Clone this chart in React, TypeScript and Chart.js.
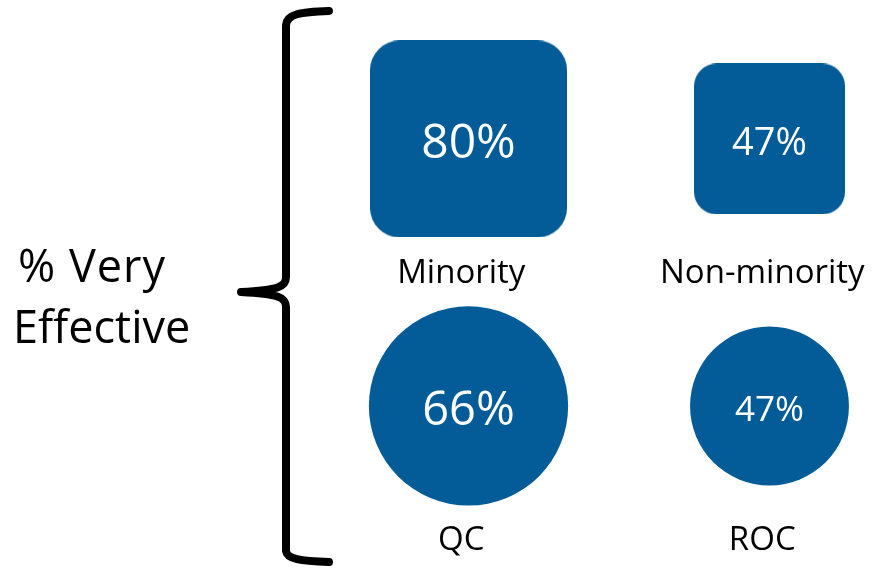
import { useEffect, useRef } from 'react';
import { Chart, registerables } from 'chart.js';

Chart.register(...registerables);

// ---- data ----
const squareLabels = ['Minority', 'Non-minority'];
const squareValues = [80, 47];
const circleLabels = ['QC', 'ROC'];
const circleValues = [66, 47];
const sideTitle = ['% Very', 'Effective'];

// ---- styles ----
const BLUE = '#035c98';
const FONT = '"Open Sans", "DejaVu Sans", sans-serif';

// size encodes value
const squareSide = (v: number) => 22 * Math.sqrt(v);
const circleRadius = (v: number) => 6.1 * Math.pow(v, 2 / 3);

const squareCache = new Map<number, HTMLCanvasElement>();
function squareImage(v: number): HTMLCanvasElement {
  const s = Math.round(squareSide(v));
  const hit = squareCache.get(s);
  if (hit) return hit;
  const c = document.createElement('canvas');
  c.width = s;
  c.height = s;
  const g = c.getContext('2d')!;
  g.fillStyle = BLUE;
  g.beginPath();
  (g as any).roundRect(0, 0, s, s, s * 0.15);
  g.fill();
  squareCache.set(s, c);
  return c;
}

const textPlugin = {
  id: 'shapeTexts',
  afterDatasetsDraw(chart: any) {
    const ctx: CanvasRenderingContext2D = chart.ctx;
    const xScale = chart.scales.x;
    const yScale = chart.scales.y;
    ctx.save();
    ctx.textAlign = 'center';
    ctx.textBaseline = 'alphabetic';
    chart.data.datasets.forEach((ds: any, di: number) => {
      const meta = chart.getDatasetMeta(di);
      meta.data.forEach((el: any, i: number) => {
        const raw = ds.data[i];
        const fs =
          di === 0
            ? Math.round(0.22 * squareSide(raw.v) + 5)
            : Math.round(0.3 * 2 * circleRadius(raw.v) - 12.7);
        ctx.fillStyle = '#ffffff';
        ctx.font = `${fs}px ${FONT}`;
        ctx.fillText(`${raw.v}%`, el.x, el.y + 0.36 * fs + 2);
        ctx.fillStyle = '#000000';
        ctx.font = `33px ${FONT}`;
        ctx.fillText(
          raw.label,
          xScale.getPixelForValue(raw.x - 0.024),
          yScale.getPixelForValue(raw.y - 0.54)
        );
      });
    });

    // side title
    ctx.textAlign = 'left';
    ctx.fillStyle = '#000000';
    ctx.font = `45px ${FONT}`;
    (ctx as any).letterSpacing = '1px';
    ctx.fillText(sideTitle[0], 18, 282);
    (ctx as any).letterSpacing = '0px';
    ctx.fillText(sideTitle[1], 13, 343);

    // curly brace
    ctx.strokeStyle = '#000000';
    ctx.lineWidth = 8;
    ctx.lineCap = 'round';
    ctx.lineJoin = 'round';
    ctx.beginPath();
    ctx.moveTo(329, 11);
    ctx.bezierCurveTo(300, 12, 287, 14, 286, 25);
    ctx.lineTo(286, 277);
    ctx.bezierCurveTo(286, 287, 278, 290, 241, 292);
    ctx.bezierCurveTo(278, 294, 286, 297, 286, 307);
    ctx.lineTo(286, 551);
    ctx.bezierCurveTo(287, 559, 300, 561, 329, 562);
    ctx.stroke();
    ctx.restore();
  },
};

export default function App() {
  const ref = useRef<HTMLCanvasElement | null>(null);

  useEffect(() => {
    if (!ref.current) return;
    const squares = squareValues.map((v, i) => ({ x: i, y: 1, v, label: squareLabels[i] }));
    const circles = circleValues.map((v, i) => ({ x: i, y: 0, v, label: circleLabels[i] }));

    const chart = new Chart(ref.current, {
      type: 'scatter',
      data: {
        datasets: [
          {
            label: 'Group',
            data: squares as any,
            pointStyle: (c: any) => squareImage(c.raw.v),
            pointRadius: (c: any) => squareSide(c.raw.v) / 2,
            backgroundColor: BLUE,
            borderWidth: 0,
            clip: false,
          } as any,
          {
            label: 'Organisation',
            data: circles as any,
            pointStyle: 'circle',
            pointRadius: (c: any) => circleRadius(c.raw.v),
            backgroundColor: BLUE,
            borderColor: BLUE,
            borderWidth: 0,
            clip: false,
          } as any,
        ],
      },
      options: {
        animation: false,
        responsive: false,
        devicePixelRatio: 1,
        events: [],
        layout: { padding: 0, autoPadding: false },
        plugins: {
          legend: { display: false },
          tooltip: { enabled: false },
        },
        scales: {
          x: { type: 'linear', display: false, min: -1.5565, max: 1.3804 },
          y: { type: 'linear', display: false, min: -0.6105, max: 1.5206 },
        },
      } as any,
      plugins: [textPlugin],
    });

    const fonts: any = (document as any).fonts;
    if (fonts && fonts.load) {
      Promise.all([fonts.load(`32px "Open Sans"`)]).then(() => chart.update()).catch(() => {});
    }
    return () => chart.destroy();
  }, []);

  return (
    <div style={{ position: 'absolute', left: 0, top: 0, width: 884, height: 569, background: '#ffffff' }}>
      <canvas ref={ref} width={884} height={569} style={{ display: 'block' }} />
    </div>
  );
}
